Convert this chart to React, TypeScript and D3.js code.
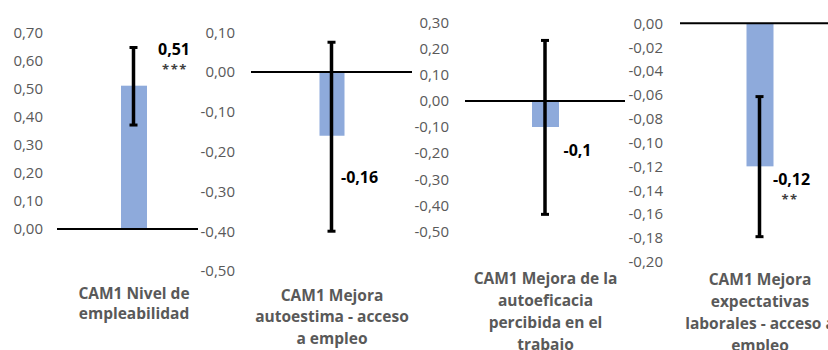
import React from "react";
import * as d3 from "d3";

// ---- data ----
const categories = [
  "CAM1 Nivel de empleabilidad",
  "CAM1 Mejora autoestima - acceso a empleo",
  "CAM1 Mejora de la autoeficacia percibida en el trabajo",
  "CAM1 Mejora expectativas laborales - acceso a empleo",
];
const categoryLines = [
  ["CAM1 Nivel de", "empleabilidad"],
  ["CAM1 Mejora", "autoestima - acceso", "a empleo"],
  ["CAM1 Mejora de la", "autoeficacia", "percibida en el", "trabajo"],
  ["CAM1 Mejora", "expectativas", "laborales - acceso a", "empleo"],
];
const values = [0.51, -0.16, -0.1, -0.12];
const errLow = [0.37, -0.4, -0.435, -0.179];
const errHigh = [0.646, 0.075, 0.232, -0.0615];
const valueLabels = ["0,51", "-0,16", "-0,1", "-0,12"];
const sigLabels = ["***", "", "", "**"];
const axisMin = [0, -0.5, -0.5, -0.2];
const axisMax = [0.7, 0.1, 0.3, 0];
const axisStep = [0.1, 0.1, 0.1, 0.02];

// ---- layout (pixels) ----
const panels = [
  { tickX: 43, x0: 57, x1: 198, band: [121, 147], yTop: 32.3, yBot: 229, labelDx: 24, labelV: 0.64, titleY: 293 },
  { tickX: 235, x0: 251, x1: 412, band: [319.5, 344.5], yTop: 32.3, yBot: 271, labelDx: 9, labelV: -0.265, titleY: 295 },
  { tickX: 449, x0: 465, x1: 625, band: [532, 559], yTop: 22.7, yBot: 231.3, labelDx: 18, labelV: -0.19, titleY: 278 },
  { tickX: 663, x0: 680, x1: 828, band: [746.5, 773.5], yTop: 23.3, yBot: 261.7, labelDx: 13, labelV: -0.131, titleY: 279 },
];
const lineH = [20, 21.5, 22.3, 22];

const FONT = "'Open Sans', 'Noto Sans', sans-serif";
const GRAY = "#595959";
const BAR = "#8eaadb";

const fmt = (v: number) => {
  const s = Math.abs(v) < 1e-9 ? (0).toFixed(2) : v.toFixed(2);
  return s.replace(".", ",");
};

export default function App() {
  return (
    <svg
      width={828}
      height={350}
      style={{ position: "absolute", left: 0, top: 0, background: "#fff" }}
      fontFamily={FONT}
    >
      {panels.map((p, i) => {
        const y = d3.scaleLinear().domain([axisMin[i], axisMax[i]]).range([p.yBot, p.yTop]);
        const x = d3.scaleBand().domain([categories[i]]).range(p.band as [number, number]).padding(0);
        const bw = x.bandwidth();
        const cx = (x(categories[i]) as number) + bw / 2;
        const n = Math.round((axisMax[i] - axisMin[i]) / axisStep[i]);
        const ticks = d3.range(n + 1).map((k) => axisMin[i] + k * axisStep[i]);
        const v = values[i];
        const capW = 8;
        const ex = cx - 0.5;
        return (
          <g key={i}>
            {ticks.map((t, k) => (
              <text
                key={k}
                x={p.tickX}
                y={y(t)}
                dy="0.36em"
                textAnchor="end"
                fontSize={15}
                fill={GRAY}
              >
                {fmt(t)}
              </text>
            ))}
            <rect
              x={cx - bw / 2}
              width={bw}
              y={Math.min(y(v), y(0))}
              height={Math.abs(y(v) - y(0))}
              fill={BAR}
            />
            <line x1={p.x0} x2={p.x1} y1={y(0)} y2={y(0)} stroke="#000" strokeWidth={2} />
            <line x1={ex} x2={ex} y1={y(errLow[i])} y2={y(errHigh[i])} stroke="#000" strokeWidth={3.5} />
            <line x1={ex - capW / 2} x2={ex + capW / 2} y1={y(errLow[i])} y2={y(errLow[i])} stroke="#000" strokeWidth={3} />
            <line x1={ex - capW / 2} x2={ex + capW / 2} y1={y(errHigh[i])} y2={y(errHigh[i])} stroke="#000" strokeWidth={3} />
            <text
              x={cx + p.labelDx}
              y={y(p.labelV)}
              dy="0.36em"
              fontSize={16}
              fontWeight="bold"
              fill="#000"
            >
              {valueLabels[i]}
            </text>
            {sigLabels[i] && (
              <text
                x={cx + p.labelDx + 17}
                y={y(p.labelV) + 25}
                textAnchor="middle"
                fontSize={13}
                fontWeight="bold"
                letterSpacing={1.5}
                fill="#404040"
              >
                {sigLabels[i]}
              </text>
            )}
            {categoryLines[i].map((ln, k) => (
              <text
                key={k}
                x={cx}
                y={p.titleY + k * lineH[i]}
                dy="0.36em"
                textAnchor="middle"
                fontSize={15.5}
                fontWeight="bold"
                fill={GRAY}
              >
                {ln}
              </text>
            ))}
          </g>
        );
      })}
    </svg>
  );
}
